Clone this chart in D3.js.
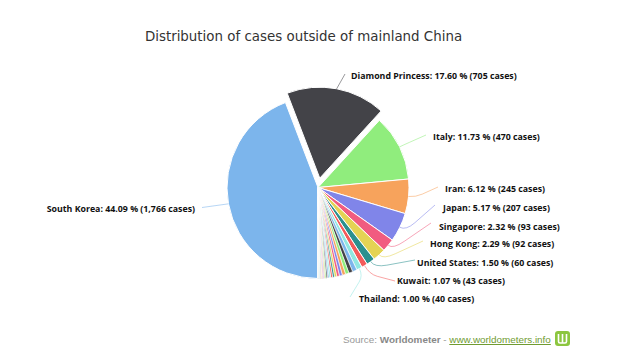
<!DOCTYPE html>
<html>
<head>
<meta charset="utf-8">
<style>html,body{margin:0;padding:0;background:#fff}svg{display:block}</style>
<script src="https://cdn.jsdelivr.net/npm/d3@7/dist/d3.min.js"></script>
</head>
<body>
<svg id="chart" width="630" height="361"></svg>
<script>
const title = "Distribution of cases outside of mainland China";
const categories = ["South Korea","Diamond Princess","Italy","Iran","Japan","Singapore","Hong Kong","United States","Kuwait","Thailand"];
const percents = [44.09,17.60,11.73,6.12,5.17,2.32,2.29,1.50,1.07,1.00];
const cases = [1766,705,470,245,207,93,92,60,43,40];
// unlabelled small slices (cases)
const otherCases = [32,28,25,23,21,19,16,14,13,12,11,10,9,8,7,6,5,5,4,4,4,3,2,2,1];
const palette = ["#7cb5ec","#434348","#90ed7d","#f7a35c","#8085e9","#f15c80","#e4d354","#2b908f","#f45b5b","#91e8e1"];

// label placement: text x / baseline-centre y, side, connector end
const labelLayout = [
  {x:195,y:209,anchor:"end",  ex:202,ey:207.5,bend:0},
  {x:351,y:76, anchor:"start",ex:345,ey:74,bend:0},
  {x:433,y:137,anchor:"start",ex:426,ey:135,bend:3},
  {x:445,y:189,anchor:"start",ex:438,ey:187,bend:7},
  {x:443,y:208,anchor:"start",ex:435,ey:205,bend:7},
  {x:439,y:227,anchor:"start",ex:431,ey:223,bend:6},
  {x:430,y:244,anchor:"start",ex:423,ey:241,bend:6},
  {x:417,y:263,anchor:"start",ex:415,ey:260,bend:7},
  {x:397,y:281,anchor:"start",ex:395,ey:281,bend:10},
  {x:359,y:299,anchor:"start",ex:350,ey:297,bend:8}
];

const cx = 318, cy = 187.5, radius = 91, sliceOffset = 9.5, slicedIndex = 1;
const svg = d3.select("#chart");

const values = cases.concat(otherCases);
const pie = d3.pie().sort(null).value(d => d)
  .startAngle(Math.PI + 0.005).endAngle(3 * Math.PI + 0.005);
const arcs = pie(values);
const arc = d3.arc().innerRadius(0).outerRadius(radius);
const color = i => palette[i % palette.length];
const mid = a => (a.startAngle + a.endAngle) / 2;
const polar = (ang, r) => [r * Math.sin(ang), -r * Math.cos(ang)];

const root = svg.append("g").attr("transform", `translate(${cx},${cy})`);

root.selectAll("path.slice").data(arcs).join("path")
  .attr("class", "slice")
  .attr("d", arc)
  .attr("fill", (d, i) => color(i))
  .attr("stroke", "#fff")
  .attr("stroke-width", (d, i) => i < 10 ? 1 : 0.6)
  .attr("stroke-linejoin", "round")
  .attr("transform", (d, i) => {
    if (i !== slicedIndex) return null;
    const [dx, dy] = polar(mid(d), sliceOffset);
    return `translate(${dx},${dy})`;
  });

// connectors
categories.forEach((name, i) => {
  const a = arcs[i], L = labelLayout[i], ang = mid(a);
  const off = i === slicedIndex ? sliceOffset : 0;
  const [sx, sy] = polar(ang, radius + off);
  const [bx, by] = polar(ang, radius + off + L.bend);
  const ex = L.ex - cx, ey = L.ey - cy;
  const t = 0.3;
  const d = L.bend
    ? `M${sx},${sy}Q${bx},${by} ${bx + (ex - bx) * t},${by + (ey - by) * t}L${ex},${ey}`
    : `M${sx},${sy}L${ex},${ey}`;
  root.append("path").attr("d", d).attr("fill", "none")
    .attr("stroke", color(i)).attr("stroke-width", 1).attr("opacity", 0.55);
});

// labels
const fmt = d3.format(",");
svg.selectAll("text.dl").data(categories).join("text")
  .attr("class", "dl")
  .attr("x", (d, i) => labelLayout[i].x)
  .attr("y", (d, i) => labelLayout[i].y)
  .attr("dy", "0.35em")
  .attr("text-anchor", (d, i) => labelLayout[i].anchor)
  .attr("font-family", "'Open Sans',sans-serif")
  .attr("font-size", 8.8)
  .attr("font-weight", "bold")
  .attr("fill", "#111")
  .text((d, i) => `${d}: ${percents[i].toFixed(2)} % (${fmt(cases[i])} cases)`);

svg.append("text").attr("x", 303.5).attr("y", 41)
  .attr("text-anchor", "middle")
  .attr("font-family", "'DejaVu Sans',sans-serif")
  .attr("font-size", 13.4)
  .attr("fill", "#333")
  .text(title);

// source line
const src = svg.append("text").attr("x", 343).attr("y", 343)
  .attr("font-family", "'Liberation Sans',Arial,sans-serif")
  .attr("font-size", 9.9).attr("fill", "#999");
src.append("tspan").text("Source: ");
src.append("tspan").attr("font-weight", "bold").attr("fill", "#888").text("Worldometer");
src.append("tspan").text(" - ");
src.append("tspan").attr("fill", "#6f9a2f").attr("text-decoration", "underline").text("www.worldometers.info");

// logo
const logo = svg.append("g").attr("transform", "translate(555,331)");
logo.append("rect").attr("width", 15).attr("height", 15).attr("rx", 3).attr("fill", "#8cc63f");
logo.append("path").attr("d", "M3.5,3V10.5Q3.5,12 5,12H10Q11.5,12 11.5,10.5V3M7.5,3V12")
  .attr("fill", "none").attr("stroke", "#fff").attr("stroke-width", 1.6);
</script>
</body>
</html>
